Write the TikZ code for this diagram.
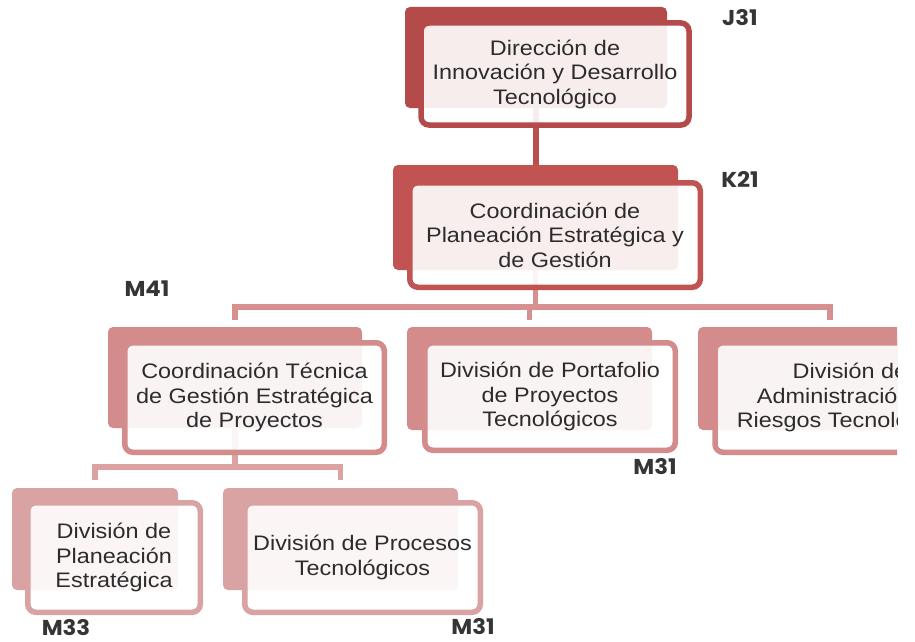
\documentclass[tikz,border=0pt]{standalone}
\usepackage{fontspec}
\setmainfont{Liberation Sans}[FakeStretch=1.115]
\newfontfamily\codefont{Poppins}[FakeStretch=1.06]
\usepackage{tikz}
\usetikzlibrary{positioning, backgrounds}

\definecolor{lvlA}{HTML}{B44A4A}
\definecolor{lvlB}{HTML}{C25353}
\definecolor{lvlC}{HTML}{D38B8B}
\definecolor{lvlD}{HTML}{D9A3A3}
\definecolor{linkA}{HTML}{BC4E4E}
\definecolor{linkB}{HTML}{D69090}
\definecolor{linkC}{HTML}{DCA2A2}
\definecolor{textgray}{HTML}{2C2C2C}
\definecolor{codegray}{HTML}{353535}

\begin{document}
\begin{tikzpicture}[x=1pt, y=-1pt,
        % Style definitions
        back/.style={
            rectangle,
            rounded corners=5pt,
            inner sep=0pt
        },
        unit/.style={
            rectangle,
            rounded corners=8pt,
            line width=5.5pt,
            fill=white,
            fill opacity=0.9,
            text opacity=1,
            text=textgray,
            inner sep=0pt,
            align=center,
            font=\fontsize{21}{24.5}\selectfont,
            execute at begin node={\rule{0pt}{22pt}}
        },
        code/.style={
            inner sep=0pt,
            text=codegray,
            font=\codefont\bfseries\fontsize{21.5}{21.5}\selectfont
        },
        link/.style={
            line width=5.5pt
        }
    ]

        \useasboundingbox (0,0) rectangle (915,642);
        \clip (0,0) rectangle (897,642);

        % ==========================================
        % Level 1
        % ==========================================
        \node (dirBack) [back, fill=lvlA, minimum width=262pt, minimum height=101pt] at (536,57.5) {};
        \node (dir) [unit, draw=lvlA, minimum width=268pt, minimum height=102pt] at (555,74)
            {Dirección de\\Innovación y Desarrollo\\Tecnológico};
        \node (dirCode) [code] at (740,18) {J31};

        % ==========================================
        % Level 2
        % ==========================================
        \node (coordBack) [back, fill=lvlB, minimum width=285pt, minimum height=105pt] at (535.5,217.5) {};
        \node (coord) [unit, draw=lvlB, minimum width=290.5pt, minimum height=104.5pt] at (555,235)
            {Coordinación de\\Planeación Estratégica y\\de Gestión};
        \node (coordCode) [code] at (740,179) {K21};

        % ==========================================
        % Level 3
        % ==========================================
        \node (tecBack) [back, fill=lvlC, minimum width=254pt, minimum height=101pt] at (235,377.5) {};
        \node (tec) [unit, draw=lvlC, minimum width=259.5pt, minimum height=109.5pt] at (254.5,397.5)
            {Coordinación Técnica\\de Gestión Estratégica\\de Proyectos};
        \node (tecCode) [code] at (147,289) {M41};

        \node (porBack) [back, fill=lvlC, minimum width=245pt, minimum height=103pt] at (529.5,378.5) {};
        \node (por) [unit, draw=lvlC, minimum width=250.5pt, minimum height=107.5pt] at (550,396.5)
            {División de Portafolio\\de Proyectos\\Tecnológicos};
        \node (porCode) [code] at (655,467) {M31};

        \node (admBack) [back, fill=lvlC, minimum width=264pt, minimum height=103pt] at (830,378.5) {};
        \node (adm) [unit, draw=lvlC, minimum width=270pt, minimum height=109.5pt] at (850,397.5)
            {División de\\Administración de\\Riesgos Tecnológicos};

        % ==========================================
        % Level 4
        % ==========================================
        \node (planBack) [back, fill=lvlD, minimum width=166pt, minimum height=102pt] at (95,539) {};
        \node (plan) [unit, draw=lvlD, minimum width=172.5pt, minimum height=109.5pt] at (114,557.5)
            {División de\\Planeación\\Estratégica};
        \node (planCode) [code] at (66,628) {M33};

        \node (procBack) [back, fill=lvlD, minimum width=235pt, minimum height=102pt] at (340.5,539) {};
        \node (proc) [unit, draw=lvlD, minimum width=235.5pt, minimum height=109.5pt] at (362.5,557.5)
            {División de Procesos\\Tecnológicos};
        \node (procCode) [code] at (473,627) {M31};

        % ==========================================
        % Connections
        % ==========================================
        \coordinate (barB) at (537,307);
        \coordinate (barC) at (235,467);

        \begin{scope}[on background layer]
            % Level 1 to level 2
            \draw [link, draw=linkA] (dirBack.south) -- (dirBack.south |- coordBack.north);

            % Level 2 to level 3
            \draw [link, draw=linkB] (coordBack.south) -- (coordBack.south |- barB);
            \draw [link, draw=linkB] ([yshift=7pt]tecBack.north) |- (barB) -| ([yshift=7pt]admBack.north);
            \draw [link, draw=linkB] (barB -| porBack.north) -- ([yshift=7pt]porBack.north);

            % Level 3 to level 4
            \draw [link, draw=linkC] (tecBack.south) -- (tecBack.south |- barC);
            \draw [link, draw=linkC] ([yshift=8pt]planBack.north) |- (barC) -| ([yshift=8pt]procBack.north);
        \end{scope}

    \end{tikzpicture}
\end{document}
